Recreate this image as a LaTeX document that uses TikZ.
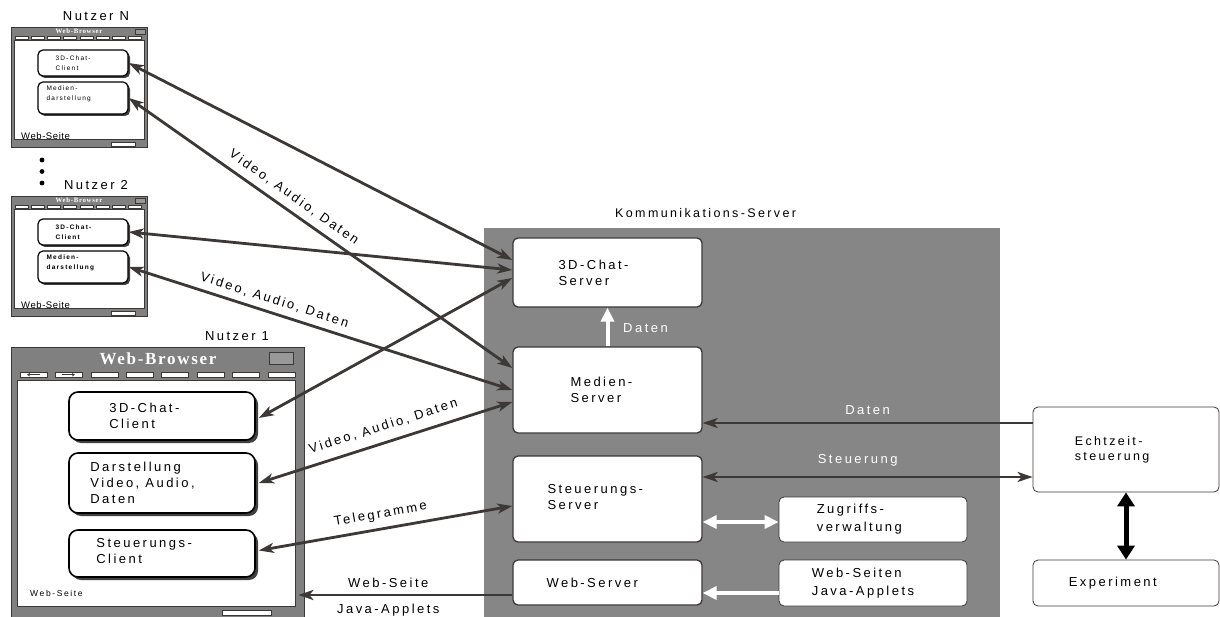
\documentclass[tikz,border=0pt]{standalone}
\usepackage{fontspec}
\setmainfont{Liberation Sans}
\newfontfamily\wsans[LetterSpace=19]{Liberation Sans}
\newfontfamily\wsanslow[LetterSpace=6]{Liberation Sans}
\newfontfamily\wserif[LetterSpace=10]{Liberation Serif}
\usetikzlibrary{arrows.meta,shadows,calc}
\definecolor{framegray}{RGB}{128,128,128}
\definecolor{dark}{RGB}{60,56,54}
\definecolor{srvgray}{RGB}{134,134,134}
\definecolor{btngray}{RGB}{152,152,152}

\newcommand\smallbrowser[4]{%
\begin{scope}[shift={(0,#1)}]
\node[frame, minimum width=136pt, minimum height=120pt] (#2fr) at (79,87) {};
\fill[white, draw=dark, line width=0.5pt] (14,40) rectangle (144,139);
\fill[btngray, draw=dark, line width=0.4pt] (135,29) rectangle (145,34);
\foreach \i in {0,...,7} {\fill[white, draw=dark, line width=0.3pt] (15+\i*16.2,36.2) rectangle (28+\i*16.2,38.8);}
\fill[white, draw=dark, line width=0.4pt] (111,142) rectangle (135,146);
\node[inner sep=0, text=white, font=\wserif\bfseries\fontsize{6.8}{7}\selectfont] (#2tt) at (79,31) {Web-Browser};
\node[smbox, minimum width=90pt, minimum height=26pt, label={[lab, font=\wsans\fontsize{6.5}{10}\selectfont#3, xshift=18pt]west:3D-Chat-\\Client}] (#2chat) at (83,63) {};
\node[smbox, minimum width=90pt, minimum height=32pt, label={[lab, font=\wsans\fontsize{6.5}{10}\selectfont#3, xshift=9pt, yshift=4pt]west:Medien-\\darstellung}] (#2med) at (83,98) {};
\node[anchor=west, inner sep=0, font=\wsanslow\fontsize{9.5}{11}\selectfont] (#2ws) at (21,136) {Web-Seite};
\node[utitle] (#2user) at (96,16.5) {#4};
\end{scope}}

\begin{document}
\begin{tikzpicture}[x=1pt,y=-1pt,
  frame/.style={fill=framegray, draw=dark, line width=0.8pt, inner sep=0},
  lab/.style={anchor=west, align=left, inner sep=0pt},
  t13/.style={font=\wsans\fontsize{13}{16}\selectfont},
  utitle/.style={inner sep=0, font=\wsans\fontsize{13}{16}\selectfont},
  smbox/.style={draw=black, line width=1.2pt, rounded corners=5pt, fill=white, inner sep=0,
     drop shadow={shadow xshift=2pt, shadow yshift=-2pt, fill=black!75, opacity=1}},
  ubox/.style={draw=black, line width=1.6pt, rounded corners=9pt, fill=white, inner sep=0,
     drop shadow={shadow xshift=3pt, shadow yshift=-3pt, fill=black!75, opacity=1}},
  sbox/.style={draw=dark, line width=1.3pt, rounded corners=5pt, fill=white, inner sep=0},
  rbox/.style={draw=dark, line width=0.8pt, rounded corners=5pt, fill=white, inner sep=0},
  arr/.style={draw=dark, line width=2.8pt, -{Stealth[length=15pt,width=10pt,inset=4pt]}},
  darr/.style={draw=dark, line width=2.8pt, {Stealth[length=15pt,width=10pt,inset=4pt]}-{Stealth[length=15pt,width=10pt,inset=4pt]}},
  warr/.style={draw=white, line width=4pt, -{Triangle[length=14pt,width=13pt]}},
  wdarr/.style={draw=white, line width=4pt, {Triangle[length=14pt,width=13pt]}-{Triangle[length=14pt,width=13pt]}},
  barr/.style={draw=black, line width=5pt, {Triangle[length=14pt,width=17pt]}-{Triangle[length=14pt,width=17pt]}},
  wlab/.style={text=white, inner sep=0, font=\wsans\fontsize{13}{16}\selectfont},
  llab/.style={inner sep=0, font=\wsans\fontsize{13}{16}\selectfont, sloped}
]
\useasboundingbox (0,0) rectangle (1220,617);

% ---------- small browsers ----------
\smallbrowser{0}{nN}{}{Nutzer N}
\smallbrowser{169}{n2}{\bfseries}{Nutzer 2}
\fill[black] (42,160) circle[radius=2.4pt] (42,171.5) circle[radius=2.4pt] (42,183) circle[radius=2.4pt];

% ---------- Nutzer 1 browser ----------
\node[frame, minimum width=293pt, minimum height=285pt] (fr1) at (157.5,489.5) {};
\fill[white, draw=dark, line width=0.6pt] (17,380) rectangle (295,606);
\fill[btngray, draw=dark, line width=0.5pt] (269,352) rectangle (293,364);
\foreach \i in {0,...,7} {\fill[white, draw=dark, line width=0.5pt] (20+\i*35.4,372) rectangle (47+\i*35.4,377.5);}
\draw[dark, line width=0.8pt, -{Stealth[length=3pt,width=3.5pt]}] (40,374.7) -- (27,374.7);
\draw[dark, line width=0.8pt, -{Stealth[length=3pt,width=3.5pt]}] (62,374.7) -- (75,374.7);
\fill[white, draw=dark, line width=0.5pt] (222,610) rectangle (271,615);
\node[text=white, inner sep=0, font=\wserif\bfseries\fontsize{17}{19}\selectfont] (t1) at (158,359) {Web-Browser};
\node[utitle] (u1) at (237,336) {Nutzer 1};
\node[ubox, minimum width=186pt, minimum height=48pt, label={[lab, t13, xshift=41pt]west:3D-Chat-\\Client}] (c1chat) at (162,416) {};
\node[ubox, minimum width=186pt, minimum height=60pt, label={[lab, t13, xshift=22pt]west:{Darstellung\\Video, Audio,\\Daten}}] (c1dar) at (162,483) {};
\node[ubox, minimum width=186pt, minimum height=47pt, label={[lab, t13, xshift=28pt, yshift=2pt]west:Steuerungs-\\Client}] (c1st) at (162,553.5) {};
\node[anchor=west, inner sep=0, font=\wsans\fontsize{8.5}{10}\selectfont] (ws1) at (30,593) {Web-Seite};

% ---------- Kommunikations-Server ----------
\node[fill=srvgray, inner sep=0, minimum width=516pt, minimum height=389pt] (ks) at (742,422.5) {};
\node[anchor=west, inner sep=0, font=\wsans\fontsize{12.5}{15}\selectfont] (ksl) at (615,213) {Kommunikations-Server};
\node[sbox, minimum width=189pt, minimum height=69pt, label={[lab, t13, xshift=46pt]west:3D-Chat-\\Server}] (s3d) at (607.5,272.5) {};
\node[sbox, minimum width=189pt, minimum height=86pt, label={[lab, t13, xshift=58pt]west:Medien-\\Server}] (smed) at (607.5,390) {};
\node[sbox, minimum width=189pt, minimum height=86pt, label={[lab, t13, xshift=35pt, yshift=1.5pt]west:Steuerungs-\\Server}] (sst) at (607.5,499) {};
\node[sbox, minimum width=189pt, minimum height=45pt, label={[lab, t13, xshift=34pt]west:Web-Server}] (sweb) at (607.5,582.5) {};
\node[rbox, minimum width=188pt, minimum height=45pt, label={[lab, font=\wsans\fontsize{13}{18}\selectfont, xshift=38pt]west:Zugriffs-\\verwaltung}] (szug) at (873,519.5) {};
\node[rbox, minimum width=188pt, minimum height=46pt, label={[lab, font=\wsans\fontsize{13}{18}\selectfont, xshift=33pt]west:Web-Seiten\\Java-Applets}] (sws) at (873,583) {};

% ---------- right side ----------
\node[rbox, minimum width=186pt, minimum height=85pt, label={[lab, font=\wsans\fontsize{12.5}{15}\selectfont, xshift=42pt]west:Echtzeit-\\steuerung}] (echt) at (1126,449.5) {};
\node[rbox, minimum width=186pt, minimum height=46pt, label={[lab, t13, xshift=36pt]west:Experiment}] (exp) at (1126,583) {};

% ---------- connectors inside / right ----------
\draw[warr] (smed.north) -- (s3d.south);
\node[wlab, anchor=west] (ldat1) at (623,328) {Daten};
\draw[arr] ([yshift=26.5pt]echt.west) -- ([yshift=26.5pt]echt.west -| smed.east)
   node[wlab, pos=0.5, above=7pt] (ldat2) {Daten};
\draw[darr] ([yshift=22pt]sst.east) -- ([yshift=22pt]sst.east -| echt.west)
   node[wlab, pos=0.47, above=9pt] (lsteu) {Steuerung};
\draw[wdarr] ([yshift=-23pt]sst.east) -- ([yshift=-23pt]sst.east -| szug.west);
\draw[warr] ([yshift=-10pt]sws.west) -- ([yshift=-10pt]sws.west -| sweb.east);
\draw[barr] (echt.south) -- (exp.north);

% ---------- connectors to users ----------
\draw[darr] (nNchat.east) -- ([yshift=12.5pt]s3d.west);
\draw[darr] (nNmed.east) -- ([yshift=22pt]smed.west)
   node[llab, pos=0.41, above=7pt] (lvadN) {Video, Audio, Daten};
\draw[darr] (n2chat.east) -- ([yshift=2.5pt]s3d.west);
\draw[darr] (n2med.east) -- (smed.west)
   node[llab, pos=0.37, above=6pt] (lvad2) {Video, Audio, Daten};
\draw[darr] ([xshift=3pt,yshift=-2pt]c1chat.east) -- ([yshift=-5.5pt]s3d.west);
\draw[darr] ([xshift=3pt]c1dar.east) -- ([yshift=-12pt]smed.west)
   node[llab, pos=0.51, above=9pt] (lvad1) {Video, Audio, Daten};
\draw[darr] ([xshift=3pt,yshift=3pt]c1st.east) -- ([yshift=-7pt]sst.west)
   node[llab, pos=0.49, above=7pt] (ltel) {Telegramme};
\draw[arr] ([yshift=-12.5pt]sweb.west) -- ([yshift=-12.5pt,xshift=-6pt]sweb.west -| fr1.east)
   node[inner sep=0, t13, pos=0.58, above=6pt] (lws) {Web-Seite}
   node[inner sep=0, t13, pos=0.58, below=8pt] (lja) {Java-Applets};
\end{tikzpicture}
\end{document}
